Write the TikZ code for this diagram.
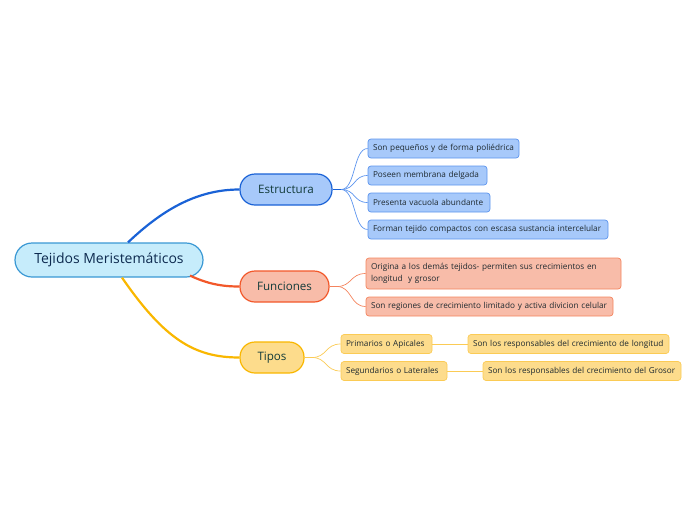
\documentclass[tikz,border=0pt]{standalone}
\usepackage{fontspec}
\setmainfont{Open Sans}
\usetikzlibrary{positioning}
\definecolor{rootfill}{HTML}{C6ECFB}
\definecolor{rootdraw}{HTML}{3A98D4}
\definecolor{rootText}{HTML}{0D2A4F}
\definecolor{bfill}{HTML}{A7C9FA}
\definecolor{bdraw}{HTML}{1A62D6}
\definecolor{bline}{HTML}{5C94EE}
\definecolor{rfill}{HTML}{F8BCA9}
\definecolor{rdraw}{HTML}{F2582A}
\definecolor{rline}{HTML}{F4845E}
\definecolor{yfill}{HTML}{FDDC8C}
\definecolor{ydraw}{HTML}{F9B700}
\definecolor{yline}{HTML}{FBCB55}
\definecolor{mainText}{HTML}{123B3A}
\definecolor{subText}{HTML}{1F2A30}
\tikzset{
  x=1pt, y=-1pt,
  rootbox/.style={draw=rootdraw, fill=rootfill, line width=1.2pt, rounded corners=17pt,
    minimum width=188pt, minimum height=34pt, inner sep=0pt, text=rootText, font=\fontsize{14}{16}\selectfont},
  mainbox/.style={line width=1.2pt, rounded corners=15pt, minimum height=31pt, inner sep=0pt,
    text=mainText, font=\fontsize{11.6}{13}\selectfont},
  subbox/.style={line width=0.7pt, rounded corners=3pt, minimum height=19pt, inner xsep=5pt, inner ysep=0pt,
    text=subText, font=\fontsize{8.2}{12}\selectfont, align=left, text width={#1-10pt}},
  bsub/.style={subbox=#1, draw=bline, fill=bfill},
  rsub/.style={subbox=#1, draw=rline, fill=rfill},
  ysub/.style={subbox=#1, draw=yline, fill=yfill},
}
\begin{document}
\begin{tikzpicture}
\useasboundingbox (0,0) rectangle (696,520);
% root
\node[rootbox] (root) at (109,260) {Tejidos Meristemáticos};
% main branches
\node[mainbox, draw=bdraw, fill=bfill, minimum width=92pt] (est) at (286,189.5) {Estructura};
\node[mainbox, draw=rdraw, fill=rfill, minimum width=89pt] (fun) at (284.5,286.5) {Funciones};
\node[mainbox, draw=ydraw, fill=yfill, minimum width=64pt] (tip) at (272,357.5) {Tipos};
% estructura children
\node[bsub=151pt] (e1) at (443.5,148.5) {Son pequeños y de forma poliédrica};
\node[bsub=119pt] (e2) at (427.5,175.5) {Poseen membrana delgada};
\node[bsub=122pt] (e3) at (429,202.5) {Presenta vacuola abundante};
\node[bsub=240pt] (e4) at (488,229.5) {Forman tejido compactos con escasa sustancia intercelular};
% funciones children
\node[rsub=255pt, minimum height=31pt] (f1) at (493.5,273.5)
  {Origina a los demás tejidos- permiten sus crecimientos en\\longitud\ \ y grosor};
\node[rsub=247pt] (f2) at (489.5,306.5) {Son regiones de crecimiento limitado y activa divicion celular};
% tipos children
\node[ysub=91pt] (t1) at (386.5,344) {Primarios o Apicales};
\node[ysub=106pt] (t2) at (394,371) {Segundarios o Laterales};
\node[ysub=201pt] (t3) at (568.5,344) {Son los responsables del crecimiento de longitud};
\node[ysub=198pt] (t4) at (582,371) {Son los responsables del crecimiento del Grosor};
% main connectors
\draw[bdraw, line width=2.2pt] ([xshift=19pt]root.north) .. controls (160,212) and (195,189.5) .. (est.west);
\draw[rdraw, line width=2.2pt] ([xshift=81pt,yshift=2pt]root.south) .. controls (208,284) and (222,286.5) .. (fun.west);
\draw[ydraw, line width=2.2pt] ([xshift=13pt]root.south) .. controls (165,340) and (195,357.5) .. (tip.west);
% estructura sub connectors
\coordinate (ej) at (341,189.5);
\draw[bdraw, line width=1.6pt] (est.east) -- (ej);
\foreach \n in {e1,e2,e3,e4}{
  \draw[bline, line width=0.7pt] (ej) .. controls (356,189.5) and (353,0 |- \n.west) .. (\n.west);
}
% funciones sub connectors
\coordinate (fj) at (337,286.5);
\draw[rline, line width=1.2pt] (fun.east) -- (fj);
\foreach \n in {f1,f2}{
  \draw[rline, line width=0.7pt] (fj) .. controls (352,286.5) and (350,0 |- \n.west) .. (\n.west);
}
% tipos sub connectors
\coordinate (tj) at (312,357.5);
\draw[yline, line width=1.2pt] (tip.east) -- (tj);
\foreach \n in {t1,t2}{
  \draw[yline, line width=0.7pt] (tj) .. controls (327,357.5) and (325,0 |- \n.west) .. (\n.west);
}
\draw[yline, line width=0.7pt] (t1.east) -- (t3.west);
\draw[yline, line width=0.7pt] (t2.east) -- (t4.west);
\end{tikzpicture}
\end{document}
